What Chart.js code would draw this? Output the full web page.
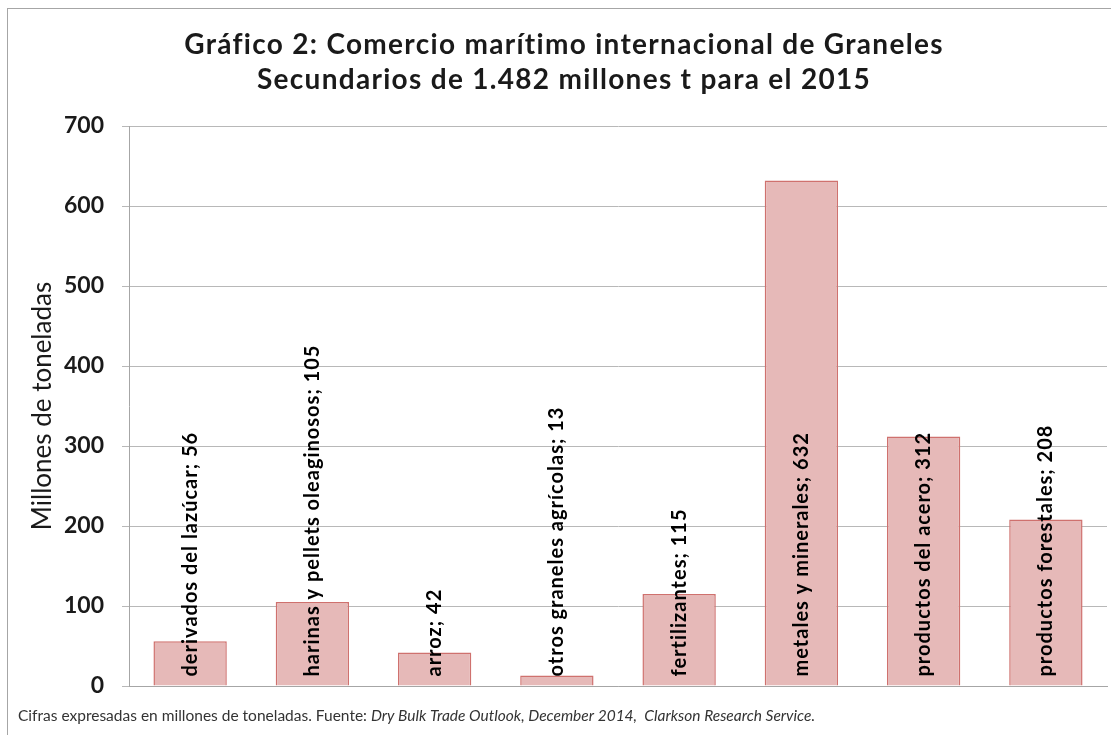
<!DOCTYPE html>
<html>
<head>
<meta charset="utf-8">
<script src="https://cdn.jsdelivr.net/npm/chart.js@4"></script>
<style>
  html, body { margin: 0; padding: 0; background: #fff; }
  #wrap { width: 1111px; height: 735px; position: relative; }
</style>
</head>
<body>
<div id="wrap"><canvas id="grafico"></canvas></div>
<script>
// datos del grafico
var categorias = [
  "derivados del lazúcar",
  "harinas y pellets oleaginosos",
  "arroz",
  "otros graneles agrícolas",
  "fertilizantes",
  "metales y minerales",
  "productos del acero",
  "productos forestales"
];
var valores = [56, 105, 42, 13, 115, 632, 312, 208];
var titulo = [
  "Gráfico 2: Comercio marítimo internacional de Graneles",
  "Secundarios de 1.482 millones t para el 2015"
];
var tituloEje = "Millones de toneladas";
var notaTexto = "Cifras expresadas en millones de toneladas. Fuente: ";
var notaFuente = "Dry Bulk Trade Outlook, December 2014,  Clarkson Research Service.";

var FUENTE = "Lato, 'Liberation Sans', sans-serif";

// etiquetas rotadas dentro de las barras + titulo, nota y marco
var pluginExtras = {
  id: 'extras',
  afterDatasetsDraw: function (chart) {
    var ctx = chart.ctx;
    var meta = chart.getDatasetMeta(0);
    ctx.save();
    ctx.fillStyle = '#000';
    ctx.font = 'bold 20px ' + FUENTE;
    ctx.letterSpacing = '1px';
    ctx.textAlign = 'left';
    ctx.textBaseline = 'middle';
    for (var i = 0; i < meta.data.length; i++) {
      var bar = meta.data[i];
      ctx.save();
      ctx.translate(bar.x, bar.base - 9);
      ctx.rotate(-Math.PI / 2);
      ctx.fillText(categorias[i] + '; ' + valores[i], 0, 0);
      ctx.restore();
    }
    ctx.letterSpacing = '0px';
    ctx.restore();
  },
  afterDraw: function (chart) {
    var ctx = chart.ctx;
    ctx.save();
    // marco
    ctx.strokeStyle = '#a6a6a6';
    ctx.lineWidth = 1;
    ctx.strokeRect(7.5, 8.5, 1200, 800);

    // titulo
    ctx.fillStyle = '#1a1a1a';
    ctx.font = 'bold 28px ' + FUENTE;
    ctx.letterSpacing = '1.3px';
    ctx.textAlign = 'center';
    ctx.textBaseline = 'middle';
    ctx.fillText(titulo[0], 564, 45);
    ctx.fillText(titulo[1], 564, 80);
    ctx.letterSpacing = '0px';

    // nota al pie
    ctx.textAlign = 'left';
    ctx.fillStyle = '#333';
    ctx.font = '15.5px ' + FUENTE;
    ctx.fillText(notaTexto, 18, 716);
    var w = ctx.measureText(notaTexto).width;
    ctx.font = 'italic 15.5px ' + FUENTE;
    ctx.fillText(notaFuente, 18 + w, 716);
    ctx.restore();
  }
};

new Chart(document.getElementById('grafico'), {
  type: 'bar',
  data: {
    labels: categorias,
    datasets: [{
      data: valores,
      backgroundColor: '#e6b9b8',
      borderColor: '#cf716e',
      borderWidth: 1.5,
      categoryPercentage: 1.0,
      barPercentage: 0.6
    }]
  },
  options: {
    responsive: true,
    maintainAspectRatio: false,
    animation: false,
    layout: {
      padding: { top: 126, bottom: 49, left: 18, right: 4 }
    },
    plugins: {
      legend: { display: false },
      tooltip: { enabled: false }
    },
    scales: {
      x: {
        ticks: { display: false },
        grid: { display: false, drawTicks: false },
        border: { display: true, color: '#a6a6a6', width: 1 }
      },
      y: {
        min: 0,
        max: 700,
        ticks: {
          stepSize: 100,
          padding: 18,
          color: '#1a1a1a',
          font: { family: FUENTE, size: 23, weight: 'bold' }
        },
        grid: { color: '#b8b8b8', lineWidth: 1, tickLength: 7 },
        border: { display: true, color: '#a6a6a6', width: 1 },
        title: {
          display: true,
          text: tituloEje,
          color: '#1a1a1a',
          padding: { top: 9, bottom: 0 },
          font: { family: FUENTE, size: 26, weight: 'normal' }
        },
        afterFit: function (scale) { scale.width = 111; }
      }
    }
  },
  plugins: [pluginExtras]
});
</script>
</body>
</html>
